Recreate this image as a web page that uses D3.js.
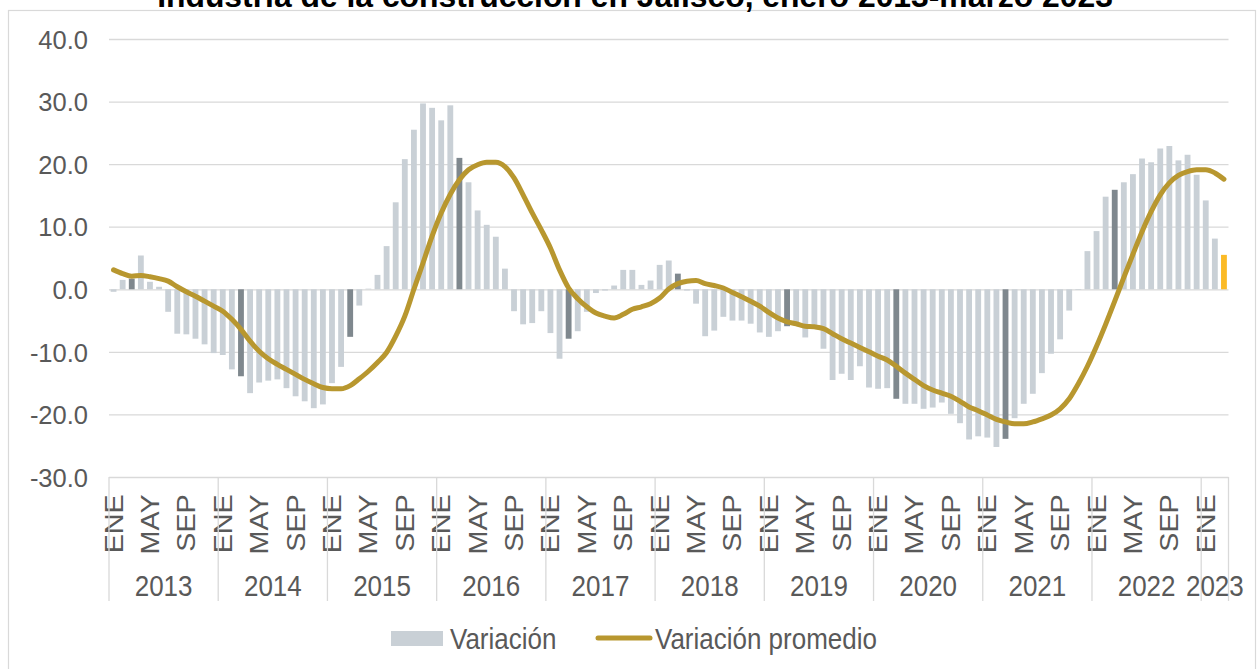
<!DOCTYPE html>
<html>
<head>
<meta charset="utf-8">
<title>Construcción Jalisco</title>
<script src="https://d3js.org/d3.v7.min.js"></script>
<style>
  body { margin: 0; background: #fff; }
  text { font-family: "Liberation Sans", Arial, sans-serif; }
</style>
</head>
<body>
<div id="chart"></div>
<script>
// data: monthly variation Jan 2013 - Mar 2023
var years = ["2013","2014","2015","2016","2017","2018","2019","2020","2021","2022","2023"]
var monthNames = ["ENE","FEB","MAR","ABR","MAY","JUN","JUL","AGO","SEP","OCT","NOV","DIC"]
var tickMonths = ["ENE","MAY","SEP"]

var variacion = [
  -0.4, 1.5, 1.7, 5.4, 1.2, 0.4, -3.6, -7.1, -7.2, -7.9, -8.8, -10.2,
  -10.5, -12.8, -13.9, -16.6, -14.9, -14.6, -14.4, -15.8, -17.1, -17.9, -19.0, -18.4,
  -15.0, -12.4, -7.6, -2.6, 0.1, 2.3, 6.9, 13.9, 20.8, 25.5, 29.7, 29.0,
  27.0, 29.4, 21.0, 17.1, 12.6, 10.3, 8.4, 3.3, -3.5, -5.6, -5.4, -3.5,
  -7.0, -11.1, -7.9, -6.7, -3.6, -0.6, -0.2, 0.6, 3.1, 3.1, 0.7, 1.4,
  3.9, 4.6, 2.5, -0.2, -2.3, -7.5, -6.6, -4.4, -5.0, -5.0, -5.5, -6.9,
  -7.6, -6.7, -5.9, -5.3, -7.7, -6.0, -9.5, -14.5, -13.5, -14.5, -12.3, -15.7,
  -15.9, -15.8, -17.5, -18.3, -18.3, -19.1, -18.9, -18.1, -19.9, -21.4, -24.0, -23.5,
  -23.7, -25.2, -23.9, -20.6, -18.3, -16.7, -13.4, -10.3, -8.0, -3.4, -0.1, 6.1,
  9.3, 14.8, 15.9, 17.1, 18.4, 20.9, 20.3, 22.5, 22.9, 20.6, 21.5, 18.3,
  14.2, 8.1, 5.5
]

var promedio = [
  3.1, 2.5, 2.1, 2.2, 2.0, 1.7, 1.3, 0.4, -0.4, -1.1, -1.9, -2.7,
  -3.5, -4.8, -6.4, -8.3, -9.9, -11.1, -12.0, -12.8, -13.6, -14.4, -15.1, -15.7,
  -15.9, -15.9, -15.4, -14.3, -13.1, -11.7, -10.1, -7.5, -4.3, 0.0, 4.2, 8.5,
  12.2, 15.2, 17.5, 19.1, 19.9, 20.3, 20.3, 19.6, 17.8, 15.1, 12.2, 9.5,
  6.6, 3.1, 0.2, -1.5, -2.8, -3.8, -4.3, -4.6, -4.0, -3.2, -2.8, -2.3,
  -1.4, 0.05, 0.9, 1.3, 1.4, 0.9, 0.6, 0.2, -0.5, -1.2, -1.9, -2.7,
  -3.7, -4.6, -5.2, -5.5, -5.9, -6.0, -6.3, -7.1, -7.9, -8.6, -9.3, -10.0,
  -10.7, -11.3, -12.3, -13.4, -14.4, -15.4, -16.1, -16.6, -17.1, -17.9, -18.8, -19.4,
  -20.1, -20.8, -21.2, -21.5, -21.5, -21.2, -20.7, -20.1, -19.1, -17.5, -15.1, -12.3,
  -9.1, -5.6, -1.9, 1.9, 5.6, 9.2, 12.4, 15.1, 17.0, 18.2, 18.8, 19.1,
  19.1, 18.6, 17.6
]

var yTicks = [-30, -20, -10, 0, 10, 20, 30, 40]
var titulo = "Industria de la construcción en Jalisco, enero 2013-marzo 2023"

// categories: one per month
var categorias = []
years.forEach(function (yr) {
  monthNames.forEach(function (m) { categorias.push(yr + "-" + m) })
})
categorias = categorias.slice(0, variacion.length)

var W = 1257, H = 669
var margin = {top: 39, left: 109, right: 28.5, bottom: 192}
var plotW = W - margin.left - margin.right
var plotH = H - margin.top - margin.bottom

var svg = d3.select("#chart").append("svg")
  .attr("width", W).attr("height", H)

svg.append("rect").attr("width", W).attr("height", H).attr("fill", "#fff")
// outer border
svg.append("rect")
  .attr("x", 8.5).attr("y", 10.5).attr("width", 1247).attr("height", 700)
  .attr("fill", "none").attr("stroke", "#d9d9d9").attr("stroke-width", 1.2)

// title (fit to measured width), cropped at the top like the source
var t = svg.append("text")
  .attr("x", 635).attr("y", 7)
  .attr("text-anchor", "middle")
  .style("font-weight", "bold").style("font-size", "24px").attr("fill", "#000")
  .text(titulo)
var tw = t.node().getComputedTextLength()
t.style("font-size", (24 * 956 / tw) + "px")

var g = svg.append("g").attr("transform", "translate(" + margin.left + "," + margin.top + ")")

var x = d3.scaleBand().domain(categorias).range([0, plotW]).paddingInner(0.36).paddingOuter(0.18)
var y = d3.scaleLinear().domain([-30, 40]).range([plotH, 0])

// y axis with gridlines
var fmt = d3.format(".1f")
var yAxis = g.append("g")
  .call(d3.axisLeft(y).tickValues(yTicks)
    .tickFormat(function (d) { return fmt(d).replace("\u2212", "-") })
    .tickSizeInner(-plotW).tickSizeOuter(0).tickPadding(21))
yAxis.select(".domain").remove()
yAxis.selectAll("line").attr("stroke", "#d9d9d9").attr("stroke-width", 1.3)
yAxis.selectAll("text")
  .attr("fill", "#595959").style("font-size", "25.5px")
  .attr("dy", "0.36em")

// bars
var last = variacion.length - 1
g.selectAll(".bar").data(variacion).enter().append("rect")
  .attr("class", "bar")
  .attr("x", function (d, i) { return x(categorias[i]) })
  .attr("width", x.bandwidth())
  .attr("y", function (d) { return y(Math.max(0, d)) })
  .attr("height", function (d) { return Math.abs(y(d) - y(0)) })
  .attr("fill", function (d, i) {
    if (i == last) return "#fbba26"
    if (categorias[i].slice(5) == "MAR") return "#7f888e"
    return "#c9d0d6"
  })

// line
var line = d3.line()
  .x(function (d, i) { return x(categorias[i]) + x.bandwidth() / 2 })
  .y(function (d) { return y(d) })
  .curve(d3.curveMonotoneX)
g.append("path").datum(promedio)
  .attr("d", line)
  .attr("fill", "none").attr("stroke", "#b8972f").attr("stroke-width", 5)
  .attr("stroke-linejoin", "round").attr("stroke-linecap", "round")

// x axis: month labels
var xTickVals = categorias.filter(function (c) { return tickMonths.indexOf(c.slice(5)) >= 0 })
var xAxis = g.append("g").attr("transform", "translate(0," + plotH + ")")
  .call(d3.axisBottom(x).tickValues(xTickVals).tickSize(0)
    .tickFormat(function (c) { return c.slice(5) }))
xAxis.select(".domain").remove()
xAxis.selectAll("text")
  .attr("fill", "#595959").style("font-size", "25px")
  .attr("text-anchor", "end")
  .attr("transform", "rotate(-90) scale(1.15,1)")
  .attr("x", -15).attr("y", 0).attr("dy", "0.36em")

// year separators and labels
var step = x.step()
var yearBounds = years.map(function (yr) {
  var first = categorias.indexOf(yr + "-ENE")
  var n = categorias.filter(function (c) { return c.slice(0, 4) == yr }).length
  return {yr: yr, x0: x(categorias[first]) - (step - x.bandwidth()) / 2, w: n * step}
})
var sep = g.append("g")
yearBounds.forEach(function (b) {
  sep.append("line").attr("x1", b.x0).attr("x2", b.x0)
    .attr("y1", plotH).attr("y2", plotH + 124)
    .attr("stroke", "#d9d9d9").attr("stroke-width", 1.3)
})
var lastB = yearBounds[yearBounds.length - 1]
sep.append("line").attr("x1", lastB.x0 + lastB.w).attr("x2", lastB.x0 + lastB.w)
  .attr("y1", plotH).attr("y2", plotH + 124)
  .attr("stroke", "#d9d9d9").attr("stroke-width", 1.3)

g.selectAll(".yr").data(yearBounds).enter().append("text")
  .attr("class", "yr")
  .attr("transform", function (b) { return "translate(" + (b.x0 + b.w / 2) + "," + (585 - margin.top) + ") scale(1,1.15)" })
  .attr("text-anchor", "middle").attr("dy", "0.36em")
  .attr("fill", "#595959").style("font-size", "26px")
  .text(function (b) { return b.yr })

// legend
var lg = svg.append("g")
lg.append("rect").attr("x", 391).attr("y", 631).attr("width", 52).attr("height", 15).attr("fill", "#c9d0d6")
lg.append("text").attr("transform", "translate(450,638) scale(1,1.15)")
  .attr("dy", "0.36em").attr("fill", "#595959").style("font-size", "26px").text("Variación")
lg.append("line").attr("x1", 598).attr("x2", 650).attr("y1", 638).attr("y2", 638)
  .attr("stroke", "#b8972f").attr("stroke-width", 5).attr("stroke-linecap", "round")
lg.append("text").attr("transform", "translate(655,638) scale(1,1.15)")
  .attr("dy", "0.36em").attr("fill", "#595959").style("font-size", "26px").text("Variación promedio")
</script>
</body>
</html>
